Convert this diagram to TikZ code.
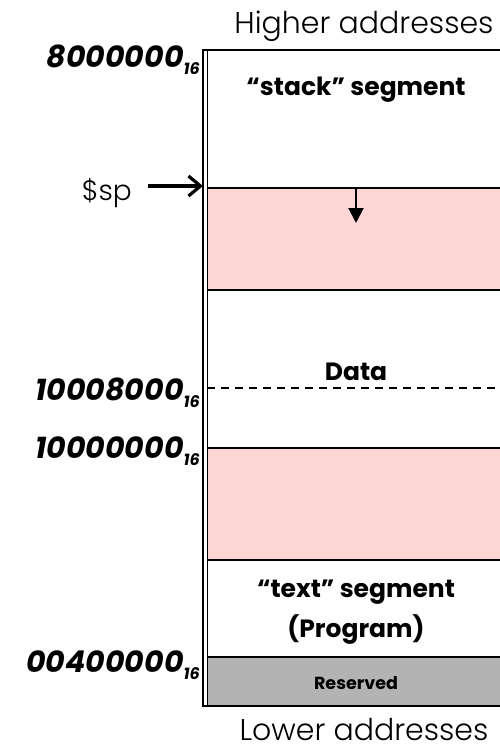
\documentclass[tikz,border=0pt]{standalone}
\usepackage{fontspec}
\setmainfont{Poppins}
\newfontfamily\lightfont{Poppins Light}
\usetikzlibrary{arrows.meta}
\definecolor{gappink}{HTML}{FFD6D6}
\definecolor{resgray}{HTML}{B3B3B3}
\tikzset{
  segline/.style={line width=2.4pt},
  edgeline/.style={line width=1.8pt},
  addr/.style={anchor=base east, inner sep=0pt, font=\fontsize{30}{32}\selectfont\bfseries\itshape},
  seglabel/.style={anchor=base, inner sep=0pt, font=\fontsize{25}{28}\selectfont\bfseries},
  header/.style={anchor=base, inner sep=0pt, font=\fontsize{30}{33}\selectfont\lightfont},
}
\newcommand{\hexsub}{\raisebox{-7pt}{\fontsize{16}{16}\selectfont 16}}
\begin{document}
\begin{tikzpicture}[x=1pt,y=-1pt]
\useasboundingbox (0,0) rectangle (500,753);
\begin{scope}
  \clip (0,0) rectangle (500,753);
  % free-space bands and reserved area
  \fill[gappink] (207,188) rectangle (520,290);
  \fill[gappink] (207,448) rectangle (520,560);
  \fill[resgray] (207,657) rectangle (520,707);
  % segment boundaries
  \draw[segline] (203,50) -- (520,50);
  \draw[segline] (207,188) -- (520,188);
  \draw[segline] (207,290) -- (520,290);
  \draw[segline] (207,448) -- (520,448);
  \draw[segline] (207,560) -- (520,560);
  \draw[segline] (207,657) -- (520,657);
  \draw[segline] (203,706) -- (520,706);
  \draw[line width=1.6pt, dash pattern=on 8pt off 6pt] (207,388) -- (520,388);
  % double left edge
  \draw[edgeline] (203,49) -- (203,707);
  \draw[edgeline] (207.5,49) -- (207.5,707);
\end{scope}

% headings
\node[header] (high) at (364,33) {Higher addresses};
\node[header] (low) at (364,740) {Lower addresses};

% address labels
\node[addr] (a8) at (200,67) {8000000\hexsub};
\node[addr] (a10008) at (200,400) {10008000\hexsub};
\node[addr] (a10000) at (200,458) {10000000\hexsub};
\node[addr] (a004) at (200,672) {00400000\hexsub};

% segment labels
\node[seglabel] (stack) at (356,95) {“stack” segment};
\node[seglabel] (data) at (356,380) {Data};
\node[seglabel] (text) at (356,597) {“text” segment};
\node[seglabel] (prog) at (356,637) {(Program)};
\node[seglabel, font=\fontsize{17.5}{20}\selectfont\bfseries] (res) at (356,689) {Reserved};

% stack pointer
\node[anchor=base east, inner sep=0pt, font=\fontsize{28}{30}\selectfont\lightfont] (sp) at (132,200) {\$sp};
\coordinate (sptip) at (203,186);
\draw[line width=3.2pt, -{Straight Barb[length=12pt,width=20pt]}] (sp.east |- sptip) ++(16,0) -- (sptip);

% stack growth direction
\coordinate (growtop) at (356,188);
\coordinate (growend) at (356,223);
\draw[line width=2pt, -{Triangle[length=15pt,width=15pt]}] (growtop) -- (growend);
\end{tikzpicture}
\end{document}
